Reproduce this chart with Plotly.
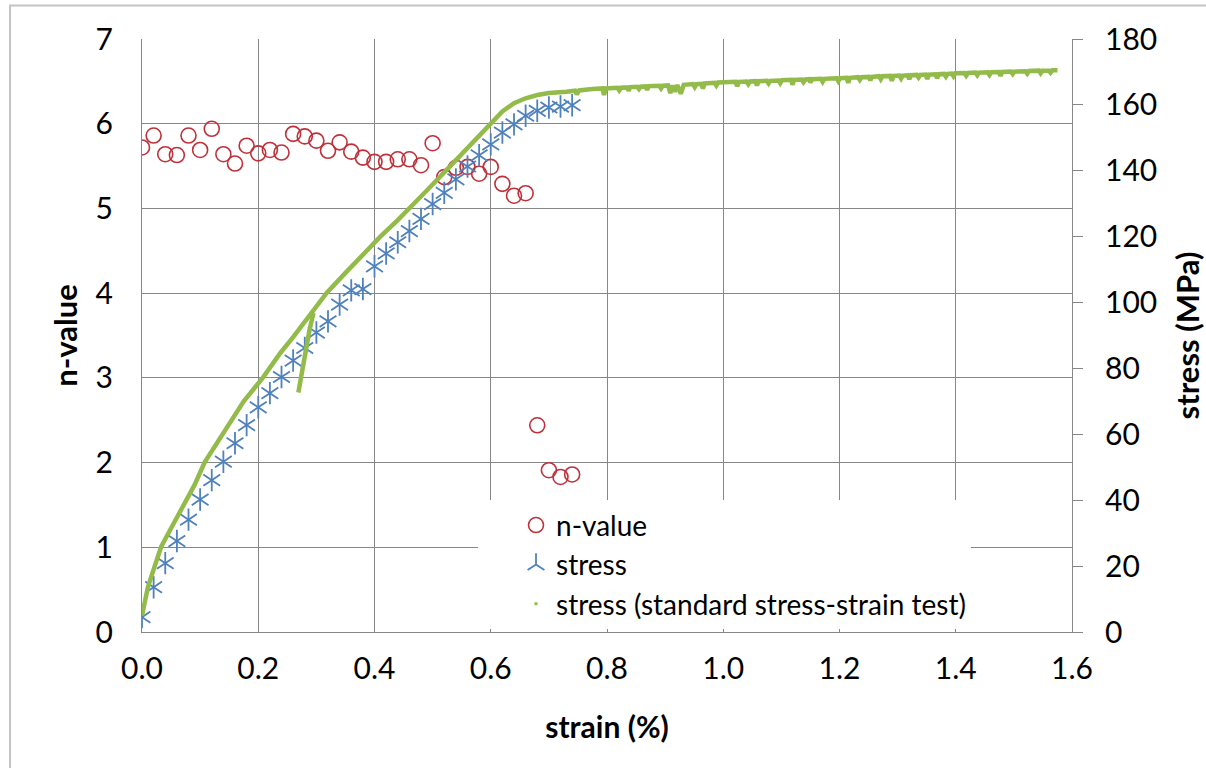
import plotly.graph_objects as go

# strain sampling used for the n-value / stress evaluation (%)
strain_pts = [0.00, 0.02, 0.04, 0.06, 0.08, 0.10, 0.12, 0.14, 0.16, 0.18,
              0.20, 0.22, 0.24, 0.26, 0.28, 0.30, 0.32, 0.34, 0.36, 0.38,
              0.40, 0.42, 0.44, 0.46, 0.48, 0.50, 0.52, 0.54, 0.56, 0.58,
              0.60, 0.62, 0.64, 0.66, 0.68, 0.70, 0.72, 0.74]

n_value = [5.72, 5.86, 5.64, 5.63, 5.86, 5.69, 5.94, 5.64, 5.53, 5.74,
           5.65, 5.69, 5.66, 5.88, 5.85, 5.80, 5.68, 5.78, 5.67, 5.60,
           5.55, 5.55, 5.58, 5.58, 5.51, 5.77, 5.37, 5.48, 5.49, 5.41,
           5.49, 5.29, 5.15, 5.18, 2.44, 1.91, 1.83, 1.86]

stress = [4.5, 13.6, 20.9, 27.6, 34.1, 40.2, 46.1, 51.7, 57.3, 62.8,
          68.2, 72.5, 77.4, 82.4, 86.2, 90.9, 94.3, 99.4, 103.7, 104.1,
          111.0, 114.9, 118.3, 121.7, 125.4, 129.9, 133.3, 137.4, 141.3, 144.7,
          148.0, 151.6, 154.1, 156.7, 158.2, 159.2, 159.5, 159.9]

# standard stress-strain test record
std_strain = [0.000, 0.004, 0.010, 0.020, 0.033, 0.050, 0.071, 0.090, 0.108, 0.130,
              0.151, 0.175, 0.208, 0.238, 0.260, 0.289, 0.318, 0.350, 0.380, 0.410,
              0.440, 0.461, 0.490, 0.520, 0.550, 0.575, 0.599, 0.620, 0.640, 0.660,
              0.680, 0.700, 0.730, 0.745, 0.748, 0.752, 0.775, 0.792, 0.795, 0.798,
              0.818, 0.821, 0.824, 0.835, 0.837, 0.840, 0.852, 0.855, 0.858, 0.866,
              0.869, 0.872, 0.890, 0.893, 0.896, 0.905, 0.909, 0.913, 0.917, 0.921,
              0.927, 0.932, 0.948, 0.951, 0.954, 0.962, 0.965, 0.968, 0.985, 0.988,
              0.991, 1.000, 1.021, 1.024, 1.027, 1.040, 1.043, 1.046, 1.055, 1.058,
              1.061, 1.075, 1.078, 1.081, 1.095, 1.098, 1.101, 1.117, 1.119, 1.122,
              1.135, 1.138, 1.141, 1.148, 1.150, 1.153, 1.168, 1.171, 1.174, 1.185,
              1.195, 1.198, 1.201, 1.212, 1.215, 1.218, 1.232, 1.235, 1.238, 1.250,
              1.253, 1.256, 1.268, 1.271, 1.274, 1.287, 1.290, 1.293, 1.303, 1.306,
              1.309, 1.317, 1.320, 1.323, 1.333, 1.336, 1.339, 1.348, 1.351, 1.354,
              1.365, 1.368, 1.371, 1.380, 1.383, 1.386, 1.393, 1.396, 1.399, 1.415,
              1.418, 1.421, 1.434, 1.437, 1.440, 1.455, 1.458, 1.461, 1.474, 1.477,
              1.480, 1.495, 1.498, 1.501, 1.520, 1.523, 1.526, 1.543, 1.546, 1.549,
              1.560, 1.563, 1.566, 1.575]
std_stress = [5.0, 9.0, 13.5, 19.0, 25.9, 31.5, 38.0, 44.5, 51.6, 57.5,
              63.0, 70.0, 77.2, 84.7, 89.5, 96.3, 103.0, 109.0, 114.5, 120.0,
              125.0, 128.6, 134.0, 139.5, 145.0, 149.8, 154.3, 158.0, 160.5, 162.0,
              163.0, 163.6, 164.0, 164.3, 163.2, 164.4, 164.8, 165.0, 163.0, 165.0,
              165.2, 164.4, 165.2, 165.3, 164.3, 165.4, 165.5, 164.8, 165.5, 165.6,
              164.6, 165.7, 165.8, 165.0, 165.8, 165.9, 163.6, 165.9, 164.0, 166.0,
              163.4, 166.1, 166.3, 165.4, 166.3, 166.4, 165.0, 166.5, 166.7, 165.9,
              166.8, 166.9, 167.0, 165.7, 167.0, 167.1, 166.3, 167.1, 167.2, 165.9,
              167.2, 167.3, 166.5, 167.3, 167.4, 166.6, 167.5, 167.6, 166.1, 167.6,
              167.7, 166.9, 167.7, 167.8, 166.8, 167.8, 167.9, 167.0, 167.9, 168.0,
              168.1, 167.2, 168.1, 168.2, 166.7, 168.2, 168.4, 167.6, 168.4, 168.5,
              167.5, 168.5, 168.7, 167.8, 168.7, 168.8, 167.3, 168.8, 168.9, 168.0,
              168.9, 169.0, 167.8, 169.0, 169.1, 168.3, 169.1, 169.2, 167.9, 169.2,
              169.3, 168.1, 169.3, 169.4, 168.6, 169.4, 169.5, 168.7, 169.6, 169.7,
              168.9, 169.7, 169.8, 169.0, 169.8, 169.9, 169.1, 169.9, 170.0, 168.8,
              170.0, 170.1, 169.4, 170.1, 170.2, 169.5, 170.3, 170.4, 169.6, 170.4,
              170.4, 169.8, 170.5, 170.5]

# short re-loading branch recorded in the standard test
branch_strain = [0.269, 0.275, 0.281, 0.288, 0.295]
branch_stress = [72.7, 78.5, 85.7, 91.5, 96.8]

x_ticks = [0.0, 0.2, 0.4, 0.6, 0.8, 1.0, 1.2, 1.4, 1.6]

RED = "#C0303A"
BLUE = "#4F81BD"
GREEN = "#92BB4A"
GRID = "#878787"
FONT = "Lato"

fig = go.Figure()

fig.add_trace(go.Scatter(
    x=strain_pts, y=n_value, name="n-value", mode="markers",
    legendgroup="a",
    marker=dict(symbol="circle-open", size=15, color=RED, line=dict(width=1.6, color=RED)),
))
# six-armed star marker built from an upward and a downward "Y"
fig.add_trace(go.Scatter(
    x=strain_pts, y=stress, name="stress", mode="markers", yaxis="y2",
    legendgroup="b",
    marker=dict(symbol="y-up-open", size=14, color=BLUE, line=dict(width=1.8, color=BLUE)),
))
fig.add_trace(go.Scatter(
    x=strain_pts, y=stress, name="stress", mode="markers", yaxis="y2",
    legendgroup="b", showlegend=False,
    marker=dict(symbol="y-down-open", size=14, color=BLUE, line=dict(width=1.8, color=BLUE)),
))
fig.add_trace(go.Scatter(
    x=branch_strain, y=branch_stress, mode="lines", yaxis="y2",
    legendgroup="c", showlegend=False,
    line=dict(color=GREEN, width=4.5),
))
fig.add_trace(go.Scatter(
    x=std_strain, y=std_stress, mode="lines", yaxis="y2",
    legendgroup="c", showlegend=False,
    line=dict(color=GREEN, width=4.5),
))
# legend entry for the standard test (drawn as small dots)
fig.add_trace(go.Scatter(
    x=[None], y=[None], name="stress (standard stress-strain test)", mode="markers",
    yaxis="y2", legendgroup="c",
    marker=dict(symbol="square", size=3, color=GREEN),
))

# outer chart frame
fig.add_shape(type="rect", xref="paper", yref="paper",
              x0=-0.1419, x1=1.3, y0=-0.4, y1=1.0566,
              line=dict(color="#C4C4C4", width=2), fillcolor="rgba(0,0,0,0)", layer="below")

fig.update_layout(
    width=1206, height=768,
    margin=dict(l=142, r=134, t=39, b=136, autoexpand=False),
    paper_bgcolor="white", plot_bgcolor="white",
    font=dict(family=FONT, size=30, color="black"),
    showlegend=True,
    legend=dict(
        x=0.3613, y=0.222, xanchor="left", yanchor="top",
        bgcolor="white", borderwidth=0,
        font=dict(family=FONT, size=28, color="black"),
        traceorder="grouped", tracegroupgap=0, indentation=38,
    ),
    xaxis=dict(
        range=[0, 1.6], tickvals=x_ticks, tickformat=".1f", automargin=False,
        showgrid=True, gridcolor=GRID, gridwidth=1,
        showline=True, linecolor=GRID, linewidth=1,
        zeroline=False, ticks="", ticklabelstandoff=10,
        tickfont=dict(family=FONT, size=30),
        title=dict(text="<b>strain (%)</b>", font=dict(family=FONT, size=30), standoff=32),
    ),
    yaxis=dict(
        range=[0, 7], dtick=1, automargin=False,
        showgrid=True, gridcolor=GRID, gridwidth=1,
        showline=True, linecolor=GRID, linewidth=1,
        zeroline=False, ticks="", ticklabelstandoff=22,
        tickfont=dict(family=FONT, size=30),
        title=dict(text="<b>n-value</b>", font=dict(family=FONT, size=31), standoff=8),
    ),
    yaxis2=dict(
        range=[0, 180], dtick=20, overlaying="y", side="right", automargin=False,
        showgrid=False, showline=True, linecolor=GRID, linewidth=1,
        zeroline=False, ticks="outside", ticklen=10, tickcolor=GRID,
        ticklabelstandoff=16,
        tickfont=dict(family=FONT, size=30),
        title=dict(text="<b>stress (MPa)</b>", font=dict(family=FONT, size=31), standoff=32),
    ),
)

fig.write_html("out.html")
